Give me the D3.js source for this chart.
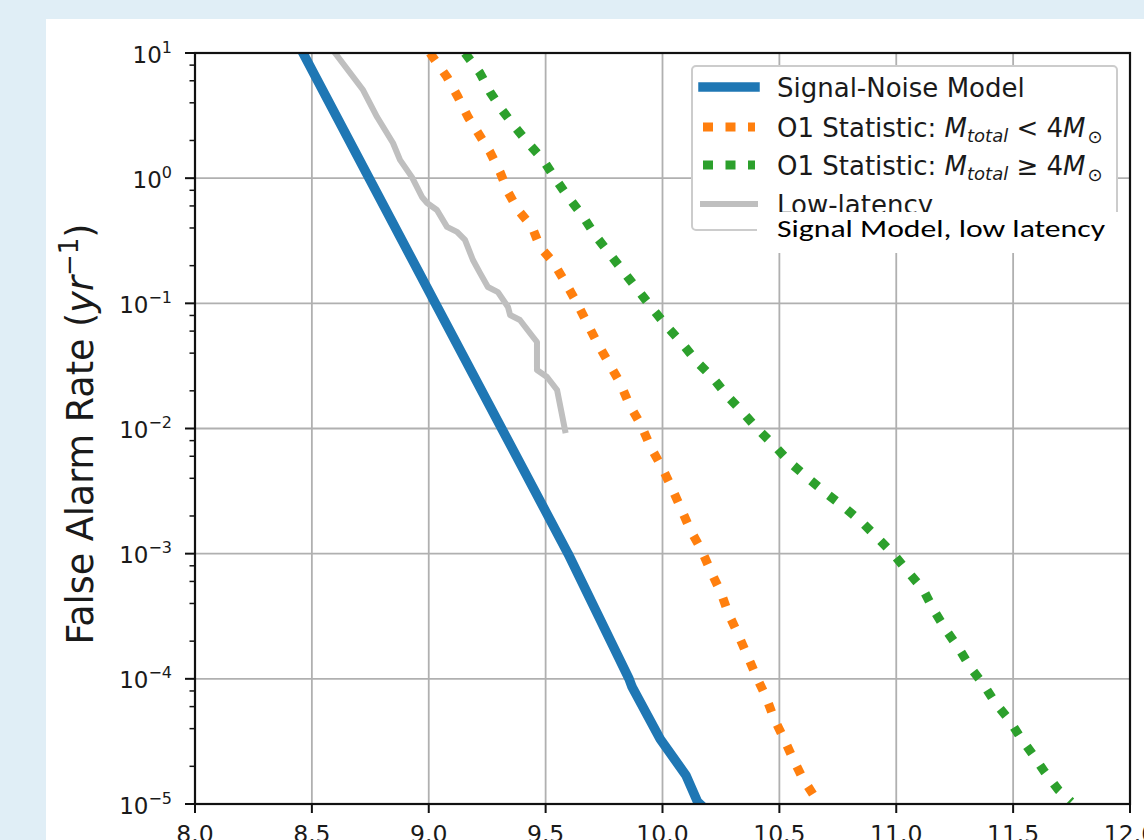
<!DOCTYPE html>
<html>
<head>
<meta charset="utf-8">
<script src="https://cdn.jsdelivr.net/npm/d3@7"></script>
<style>
  html, body { margin: 0; padding: 0; background: #ffffff; }
  svg { display: block; }
  text { font-family: "DejaVu Sans", sans-serif; fill: #1a1a1a; }
</style>
</head>
<body>
<svg id="chart" width="1144" height="840"></svg>
<script>
// ---- data -------------------------------------------------------------
const xTickValues = [8.0, 8.5, 9.0, 9.5, 10.0, 10.5, 11.0, 11.5, 12.0];
const yTickExponents = [-5, -4, -3, -2, -1, 0, 1];
const yMinorMultipliers = [2, 4, 6, 8];

// Signal-Noise Model
const signalNoiseStat = [8.462, 8.745, 9.028, 9.312, 9.596, 9.857, 9.870, 9.990, 10.100, 10.150, 10.160];
const signalNoiseFar  = [10, 1, 0.1, 0.01, 1e-3, 1e-4, 8.6e-5, 3.3e-5, 1.7e-5, 1.04e-5, 1e-5];

// O1 Statistic, M_total < 4 M_sun
const o1LowStat = [9.005, 9.078, 9.125, 9.168, 9.211, 9.262, 9.305, 9.339, 9.382, 9.442, 9.476, 9.532, 9.583,
  9.634, 9.677, 9.721, 9.770, 9.819, 9.859, 9.908, 9.949, 9.997, 10.038, 10.078, 10.119, 10.167, 10.208,
  10.249, 10.281, 10.321, 10.362, 10.403, 10.443, 10.476, 10.516, 10.557, 10.597, 10.646, 10.654];
const o1LowFar = [10, 6.43, 4.45, 3.08, 2.30, 1.62, 1.12, 0.775, 0.557, 0.408, 0.282, 0.214, 0.148,
  0.1007, 0.0697, 0.0482, 0.0334, 0.0231, 0.0154, 0.0107, 0.00711, 0.00492, 0.00341, 0.00232, 0.00155, 0.00107, 7.14e-4,
  4.94e-4, 3.36e-4, 2.32e-4, 1.55e-4, 1.03e-4, 7.16e-5, 4.87e-5, 3.43e-5, 2.33e-5, 1.64e-5, 1.18e-5, 1e-5];

// O1 Statistic, M_total >= 4 M_sun
const o1HighStat = [9.155, 9.219, 9.262, 9.313, 9.369, 9.425, 9.489, 9.540, 9.596, 9.656, 9.711, 9.956,
  10.021, 10.083, 10.148, 10.216, 10.281, 10.346, 10.411, 10.484, 10.548, 10.622, 10.699, 10.776, 10.852,
  10.921, 10.991, 11.051, 11.116, 11.160, 11.213, 11.267, 11.319, 11.375, 11.424, 11.484, 11.530, 11.586,
  11.635, 11.695, 11.748];
const o1HighFar = [10, 6.92, 4.88, 3.51, 2.56, 1.91, 1.40, 1.00, 0.708, 0.508, 0.352, 0.0912,
  0.0647, 0.0482, 0.0340, 0.0253, 0.0179, 0.0133, 0.00973, 0.00711, 0.00530, 0.00402, 0.00305, 0.00236, 0.00179,
  0.00133, 9.76e-4, 7.14e-4, 5.13e-4, 3.55e-4, 2.45e-4, 1.76e-4, 1.22e-4, 8.93e-5, 6.41e-5, 4.69e-5, 3.43e-5, 2.46e-5,
  1.80e-5, 1.29e-5, 1.04e-5];

// Low-latency
const lowLatencyStat = [8.599, 8.719, 8.779, 8.847, 8.877, 8.928, 8.971, 8.993, 9.035, 9.078, 9.121, 9.155,
  9.189, 9.219, 9.253, 9.296, 9.339, 9.348, 9.390, 9.446, 9.463, 9.463, 9.506, 9.549, 9.583];
const lowLatencyFar = [10, 5.06, 3.08, 1.91, 1.40, 1.02, 0.708, 0.634, 0.557, 0.408, 0.372, 0.321,
  0.222, 0.175, 0.135, 0.123, 0.0935, 0.0807, 0.0736, 0.0538, 0.0491, 0.0293, 0.0258, 0.0203, 0.0097];

const seriesColors = ["#1f77b4", "#ff7f0e", "#2ca02c", "#bfbfbf"];

// ---- layout -------------------------------------------------------------
const W = 1144, H = 840;
const plot = { left: 195, top: 53, right: 1130, bottom: 804 };

const svg = d3.select("#chart");

// page background and white panel
svg.append("rect").attr("x", 0).attr("y", 0).attr("width", W).attr("height", H).attr("fill", "#e0eef6");
svg.append("rect").attr("x", 46).attr("y", 19).attr("width", W - 46).attr("height", H - 19).attr("fill", "#ffffff");

const x = d3.scaleLinear().domain([8, 12]).range([plot.left, plot.right]);
const y = d3.scaleLog().domain([1e-5, 10]).range([plot.bottom, plot.top]);

svg.append("defs").append("clipPath").attr("id", "plotClip")
  .append("rect")
  .attr("x", plot.left).attr("y", plot.top)
  .attr("width", plot.right - plot.left).attr("height", plot.bottom - plot.top);

// ---- grid ---------------------------------------------------------------
const grid = svg.append("g").attr("stroke", "#b0b0b0").attr("stroke-width", 1.8);
grid.selectAll("line.vx").data(xTickValues).join("line")
  .attr("x1", d => x(d)).attr("x2", d => x(d))
  .attr("y1", plot.top).attr("y2", plot.bottom);
grid.selectAll("line.hy").data(yTickExponents).join("line")
  .attr("x1", plot.left).attr("x2", plot.right)
  .attr("y1", d => y(Math.pow(10, d))).attr("y2", d => y(Math.pow(10, d)));

// ---- curves -------------------------------------------------------------
const line = d3.line().x(d => x(d[0])).y(d => y(d[1]));
const zipSeries = (xs, ys) => xs.map((v, i) => [v, ys[i]]);

const curves = [
  { data: zipSeries(signalNoiseStat, signalNoiseFar), color: seriesColors[0], width: 9.5, dash: null },
  { data: zipSeries(o1LowStat, o1LowFar),             color: seriesColors[1], width: 9,   dash: "9 14" },
  { data: zipSeries(o1HighStat, o1HighFar),           color: seriesColors[2], width: 9,   dash: "9 14" },
  { data: zipSeries(lowLatencyStat, lowLatencyFar),   color: seriesColors[3], width: 6,   dash: null }
];

const curveLayer = svg.append("g").attr("clip-path", "url(#plotClip)");
curves.forEach(c => {
  curveLayer.append("path")
    .attr("d", line(c.data))
    .attr("fill", "none")
    .attr("stroke", c.color)
    .attr("stroke-width", c.width)
    .attr("stroke-linejoin", "round")
    .attr("stroke-linecap", c.dash ? "butt" : "square")
    .attr("stroke-dasharray", c.dash);
});

// ---- spines -------------------------------------------------------------
svg.append("rect")
  .attr("x", plot.left).attr("y", plot.top)
  .attr("width", plot.right - plot.left).attr("height", plot.bottom - plot.top)
  .attr("fill", "none").attr("stroke", "#111").attr("stroke-width", 2.2);

// ---- x axis ticks ---------------------------------------------------------
const xAxis = svg.append("g");
xAxis.selectAll("line").data(xTickValues).join("line")
  .attr("x1", d => x(d)).attr("x2", d => x(d))
  .attr("y1", plot.bottom).attr("y2", plot.bottom + 9)
  .attr("stroke", "#111").attr("stroke-width", 2);
xAxis.selectAll("text").data(xTickValues).join("text")
  .attr("x", d => x(d)).attr("y", plot.bottom + 38)
  .attr("text-anchor", "middle").attr("font-size", 23.5)
  .text(d => d.toFixed(1));

// ---- y axis ticks ---------------------------------------------------------
const yAxis = svg.append("g");
yAxis.selectAll("line.major").data(yTickExponents).join("line")
  .attr("x1", plot.left - 10).attr("x2", plot.left)
  .attr("y1", d => y(Math.pow(10, d))).attr("y2", d => y(Math.pow(10, d)))
  .attr("stroke", "#111").attr("stroke-width", 2);

const minorValues = [];
yTickExponents.slice(0, -1).forEach(e => yMinorMultipliers.forEach(m => minorValues.push(m * Math.pow(10, e))));
yAxis.selectAll("line.minor").data(minorValues).join("line")
  .attr("x1", plot.left - 5.5).attr("x2", plot.left)
  .attr("y1", d => y(d)).attr("y2", d => y(d))
  .attr("stroke", "#111").attr("stroke-width", 1.5);

yTickExponents.forEach(e => {
  const t = yAxis.append("text")
    .attr("x", 172).attr("y", y(Math.pow(10, e)) + 9.5)
    .attr("text-anchor", "end").attr("font-size", 23);
  t.append("tspan").text("10");
  t.append("tspan").attr("dy", -10).attr("font-size", 16).text(e < 0 ? "\u2212" + (-e) : String(e));
});

// y axis title
const yTitle = svg.append("text")
  .attr("transform", "translate(93,434) rotate(-90)")
  .attr("text-anchor", "middle").attr("font-size", 36.5);
yTitle.append("tspan").text("False Alarm Rate (");
yTitle.append("tspan").attr("font-style", "italic").text("yr");
yTitle.append("tspan").attr("dy", -15).attr("font-size", 26).text("\u22121");
yTitle.append("tspan").attr("dy", 15).text(")");

// ---- legend ---------------------------------------------------------------
const legend = svg.append("g");
legend.append("rect")
  .attr("x", 692).attr("y", 66).attr("width", 425).attr("height", 164).attr("rx", 4)
  .attr("fill", "#ffffff").attr("stroke", "#cccccc").attr("stroke-width", 2);

const rowY = [87, 127, 165, 204];
curves.forEach((c, i) => {
  legend.append("line")
    .attr("x1", 703).attr("x2", 755)
    .attr("y1", rowY[i]).attr("y2", rowY[i])
    .attr("stroke", c.color)
    .attr("stroke-width", c.dash ? 9 : (i === 3 ? 6 : 9.5))
    .attr("stroke-linecap", c.dash ? "butt" : "square")
    .attr("stroke-dasharray", c.dash ? "10 12.5" : null);
});

const legendText = (i) => legend.append("text")
  .attr("x", 777).attr("y", rowY[i] + 9.5).attr("font-size", 26);

legendText(0).text("Signal-Noise Model");

[["<", 1], ["\u2265", 2]].forEach(([rel, i]) => {
  const t = legendText(i);
  t.append("tspan").text("O1 Statistic: ");
  t.append("tspan").attr("font-style", "italic").text("M");
  t.append("tspan").attr("font-style", "italic").attr("font-size", 18).attr("dy", 5).text("total");
  t.append("tspan").attr("dy", -5).text(" " + rel + " 4");
  t.append("tspan").attr("font-style", "italic").text("M");
  t.append("tspan").attr("font-size", 18).attr("dy", 6).attr("dx", 2).text("\u2299");
});

legendText(3).text("Low-latency");

// relabel box for the low-latency entry
svg.append("rect").attr("x", 757).attr("y", 212).attr("width", 370).attr("height", 41).attr("fill", "#ffffff");
svg.append("text")
  .attr("x", 777).attr("y", 237)
  .attr("font-size", 25)
  .attr("textLength", 328).attr("lengthAdjust", "spacingAndGlyphs")
  .style("font-family", "Carlito, Calibri, Lato, 'Open Sans', sans-serif")
  .style("fill", "#000")
  .text("Signal Model, low latency");
</script>
</body>
</html>
